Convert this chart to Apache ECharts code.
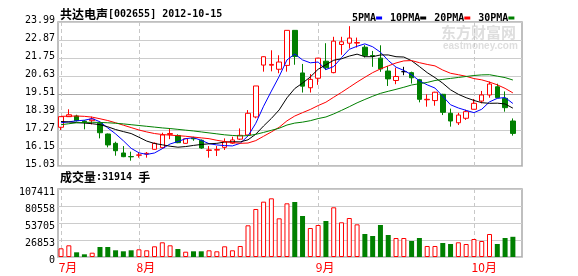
<!DOCTYPE html>
<html><head><meta charset="utf-8">
<script src="https://cdn.jsdelivr.net/npm/echarts@6/dist/echarts.min.js"></script>
<style>html,body{margin:0;padding:0;background:#fff}#c{width:578px;height:276px}</style>
</head><body><div id="c"></div>
<script>
// ---- data ----
const stockName = '共达电声';
const stockCode = '002655';
const dateStr = '2012-10-15';
const volumeUnit = '手';
const monthTicks = [0, 10, 33, 53];
const monthLabels = ['7月', '8月', '9月', '10月'];
const priceTicks = [15.03, 16.15, 17.27, 18.39, 19.51, 20.63, 21.75, 22.87, 23.99];
const volumeTicks = [0, 26853, 53705, 80558, 107411];
const maNames = ['5PMA', '10PMA', '20PMA', '30PMA'];

const opens = [17.44,18.10,18.14,17.82,17.85,17.69,17.02,16.44,15.84,15.62,
15.70,15.78,16.07,16.17,17.00,16.93,16.44,16.78,16.63,16.00,
16.02,16.19,16.45,16.70,16.96,18.08,21.31,21.30,21.05,21.29,
23.47,20.82,19.90,20.49,21.55,20.84,22.59,22.67,22.68,22.42,
21.90,21.74,20.94,20.35,20.90,20.84,20.40,19.15,19.10,19.49,
18.31,17.72,18.00,18.56,19.07,19.45,19.96,19.24,17.83];
const closes = [18.10,18.22,17.85,17.78,17.95,17.10,16.34,15.98,15.61,15.60,
15.72,15.82,16.44,16.96,17.05,16.48,16.73,16.72,16.15,16.03,
16.05,16.54,16.65,16.94,18.31,20.01,21.83,21.35,21.50,23.47,
21.85,20.00,20.42,21.74,21.14,22.80,22.76,22.99,22.71,21.90,
21.87,21.07,20.45,20.60,20.90,20.52,19.18,19.18,19.62,18.37,
17.83,18.20,18.41,18.93,19.45,20.13,19.28,18.66,17.06];
const lows = [17.27,18.08,17.80,17.31,17.62,16.75,16.19,15.67,15.58,15.36,
15.55,15.55,16.05,16.10,16.70,16.45,16.42,16.60,16.10,15.55,
15.65,16.03,16.40,16.65,16.93,18.00,20.90,20.92,20.80,20.90,
21.33,19.60,19.60,20.08,21.00,20.80,21.95,22.34,22.40,21.78,
21.20,20.89,20.01,20.12,20.68,20.16,18.99,18.72,18.78,18.20,
17.48,17.58,17.90,18.55,18.93,19.28,19.25,18.41,16.92];
const highs = [18.12,18.56,18.22,17.87,18.10,17.72,17.05,16.54,16.27,15.92,
15.86,15.90,16.50,17.10,17.35,17.00,16.75,16.85,16.68,16.27,
16.27,16.75,16.85,17.37,18.51,20.01,21.85,22.23,21.92,23.47,
23.49,21.38,20.75,21.76,22.67,23.07,23.07,23.73,23.02,22.55,
22.19,22.54,21.25,21.15,21.20,20.90,20.45,19.49,19.65,19.52,
18.60,18.34,18.53,19.20,19.70,20.28,20.15,19.67,17.99];
const volumes = [13740,18480,7420,4260,6800,15800,15800,10580,9000,10580,
12160,10580,16900,23220,18480,12640,8370,9000,9000,10580,
9000,16900,10580,17380,50070,75820,87400,92700,61100,84800,
86880,64760,45800,50550,56870,78500,54800,61600,51600,36330,
33170,50550,34750,30010,30010,25270,30010,17380,17380,22110,
20530,23220,20530,28430,25270,36330,20530,30010,31914];
const ma5 = [17.72,17.78,17.84,17.88,17.98,17.78,17.40,17.03,16.60,16.13,
15.85,15.75,15.84,16.11,16.40,16.55,16.73,16.79,16.63,16.42,
16.34,16.30,16.28,16.44,16.90,17.69,18.75,19.69,20.60,21.63,
22.00,21.63,21.45,21.50,21.03,21.22,21.77,22.29,22.48,22.63,
22.45,22.11,21.60,21.18,20.98,20.71,20.33,20.08,19.88,19.37,
18.84,18.64,18.49,18.35,18.56,19.02,19.24,19.29,18.92];
const ma10 = [17.80,17.77,17.73,17.70,17.66,17.60,17.47,17.30,17.17,17.05,
16.82,16.58,16.43,16.35,16.26,16.20,16.24,16.31,16.37,16.41,
16.44,16.52,16.54,16.53,16.66,17.01,17.52,17.99,18.52,19.27,
19.85,20.19,20.57,21.05,21.33,21.61,21.70,21.87,21.99,21.83,
21.83,21.94,21.94,21.83,21.81,21.58,21.22,20.84,20.53,20.18,
19.77,19.49,19.28,19.11,18.97,18.93,18.94,18.89,18.63];
const ma20 = [18.12,18.13,18.14,18.12,18.07,17.97,17.86,17.72,17.57,17.42,
17.27,17.15,17.05,16.99,16.95,16.92,16.88,16.83,16.78,16.73,
16.63,16.55,16.49,16.44,16.46,16.61,16.88,17.15,17.44,17.84,
18.14,18.35,18.55,18.79,19.00,19.31,19.61,19.93,20.25,20.55,
20.84,21.07,21.26,21.44,21.57,21.59,21.46,21.35,21.26,21.00,
20.80,20.71,20.61,20.47,20.39,20.25,20.08,19.86,19.58];
const ma30 = [17.60,17.66,17.72,17.74,17.75,17.74,17.72,17.69,17.65,17.60,
17.55,17.50,17.45,17.40,17.36,17.31,17.26,17.21,17.15,17.09,
17.03,16.97,16.93,16.90,16.92,17.00,17.12,17.25,17.38,17.58,
17.70,17.76,17.85,17.98,18.08,18.27,18.49,18.72,18.96,19.17,
19.37,19.55,19.68,19.80,19.93,20.07,20.15,20.23,20.35,20.42,
20.48,20.54,20.60,20.66,20.70,20.71,20.62,20.53,20.38];

// ---- chart ----
const chart = echarts.init(document.getElementById('c'), null, {renderer: 'canvas'});
const n = closes.length;
const upColor = '#ff0000', downColor = '#008000';
const maColors = ['#0000ff', '#000000', '#ff0000', '#008000'];
const maSeries = [ma5, ma10, ma20, ma30];
const mono = 'DejaVu Sans Mono';
const cjk = 'Noto Sans CJK SC';
const xMin = -0.39, xMax = 59.17;

const candleData = opens.map((o, i) => [i, o, closes[i], lows[i], highs[i]]);
const volData = volumes.map((v, i) => ({
  value: [i, v],
  itemStyle: closes[i] >= opens[i]
    ? {color: '#ffffff', borderColor: upColor, borderWidth: 1}
    : {color: downColor, borderColor: downColor, borderWidth: 0}
}));

const legendRich = {t: {fontFamily: mono, fontSize: 10, color: '#000'}, g: {width: 8}};
maColors.forEach((c, k) => { legendRich['s' + k] = {width: 6, height: 3, backgroundColor: c}; });
const legendText = maNames.map((nm, k) => '{t|' + nm + '}{s' + k + '|}').join('{g|}');

function xAxisFor(grid, showLabels) {
  return {
    gridIndex: grid, type: 'value', min: xMin, max: xMax,
    axisLine: {show: false},
    axisTick: {show: false, customValues: monthTicks},
    axisLabel: showLabels ? {
      show: true, customValues: monthTicks.map(t => t - 0.3),
      formatter: v => monthLabels[monthTicks.indexOf(Math.round(v))] || '',
      color: '#ff0000', fontFamily: cjk, fontSize: 12, align: 'left', margin: 4
    } : {show: false},
    splitLine: {show: true, lineStyle: {color: '#c8c8c8', width: 1, type: [4, 3]}}
  };
}

const option = {
  animation: false,
  backgroundColor: '#ffffff',
  title: [
    {left: 60, top: 8, padding: 0,
     text: '{c|' + stockName + '}{m|[' + stockCode + '] ' + dateStr + '}',
     textStyle: {rich: {c: {fontFamily: cjk, fontSize: 12, color: '#000'}, m: {fontFamily: mono, fontSize: 10, color: '#000'}}}},
    {left: 352, top: 9, padding: 0, text: legendText, textStyle: {rich: legendRich}},
    {left: 60, top: 171, padding: 0,
     text: '{c|成交量}{m|:' + volumes[n - 1] + ' }{c|' + volumeUnit + '}',
     textStyle: {rich: {c: {fontFamily: cjk, fontSize: 12, color: '#000'}, m: {fontFamily: mono, fontSize: 10, color: '#000'}}}}
  ],
  graphic: [
    {type: 'text', left: 441, top: 25, z: -1, silent: true,
     style: {text: '东方财富网', font: 'bold 15px "Noto Sans CJK SC"', fill: '#dedede'}},
    {type: 'text', left: 443, top: 41, z: -1, silent: true,
     style: {text: 'eastmoney.com', font: 'bold 10px "Liberation Sans"', fill: '#dedede'}}
  ],
  grid: [
    {left: 58, top: 22, width: 464, height: 144, show: true, borderColor: '#aaaaaa', borderWidth: 1.5},
    {left: 58, top: 189, width: 464, height: 68, show: true, borderColor: '#aaaaaa', borderWidth: 1.5}
  ],
  xAxis: [xAxisFor(0, false), xAxisFor(1, true)],
  yAxis: [
    {gridIndex: 0, type: 'value', min: priceTicks[0], max: priceTicks[priceTicks.length - 1],
     axisLine: {show: false}, axisTick: {show: false, customValues: priceTicks},
     axisLabel: {customValues: priceTicks, formatter: v => v.toFixed(2), fontFamily: mono, fontSize: 10, color: '#000', margin: 3,
                 verticalAlign: 'bottom', lineHeight: 4},
     splitLine: {show: true, lineStyle: {color: priceTicks.map((t, k) => k === 4 ? '#a8a8a8' : '#cccccc'), width: 1}}},
    {gridIndex: 1, type: 'value', min: volumeTicks[0], max: volumeTicks[volumeTicks.length - 1],
     axisLine: {show: false}, axisTick: {show: false, customValues: volumeTicks},
     axisLabel: {customValues: volumeTicks, formatter: v => String(Math.round(v)), fontFamily: mono, fontSize: 10, color: '#000', margin: 3,
                 verticalAlign: 'top', lineHeight: 6},
     splitLine: {show: true, lineStyle: {color: '#cccccc', width: 1}}}
  ],
  series: [
    {type: 'candlestick', xAxisIndex: 0, yAxisIndex: 0, data: candleData, barWidth: 5, z: 3,
     itemStyle: {color: '#ffffff', color0: downColor, borderColor: upColor, borderColor0: downColor, borderColorDoji: '#000000', borderWidth: 1}},
    ...maSeries.map((arr, k) => ({
      type: 'line', name: maNames[k], xAxisIndex: 0, yAxisIndex: 0, z: 4, silent: true,
      symbol: 'none', showSymbol: false,
      data: arr.map((v, i) => [i, v]),
      lineStyle: {color: maColors[k], width: 1}
    })),
    {type: 'bar', xAxisIndex: 1, yAxisIndex: 1, data: volData, barWidth: 5}
  ]
};
chart.setOption(option);
</script>
</body></html>
